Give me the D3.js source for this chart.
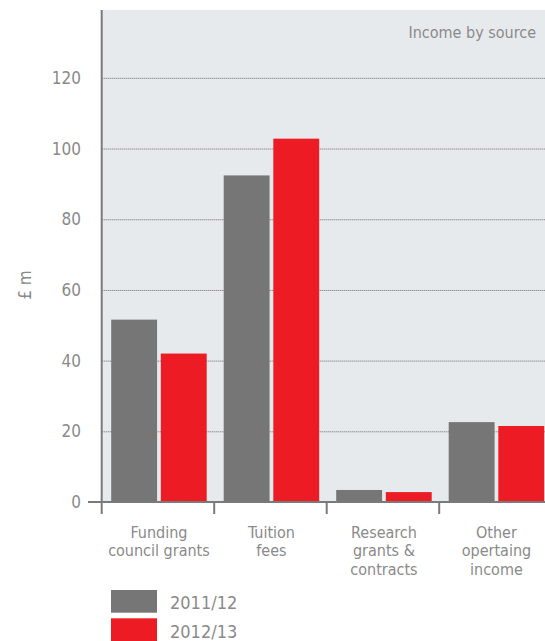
<!DOCTYPE html>
<html>
<head>
<meta charset="utf-8">
<script src="https://cdn.jsdelivr.net/npm/d3@7"></script>
<style>
  html, body { margin: 0; padding: 0; background: #fff; }
  svg { display: block; font-family: "DejaVu Sans Condensed", "DejaVu Sans", sans-serif; }
</style>
</head>
<body>
<div id="chart"></div>
<script>
// Data
const categories = [
  ['Funding', 'council grants'],
  ['Tuition', 'fees'],
  ['Research', 'grants &', 'contracts'],
  ['Other', 'opertaing', 'income']
];
const seriesNames = ['2011/12', '2012/13'];
const values2011 = [51.6, 92.4, 3.4, 22.6];
const values2012 = [42.0, 102.8, 2.8, 21.5];
const yTicks = [0, 20, 40, 60, 80, 100, 120];

const width = 545, height = 641;
const colors = { '2011/12': '#767676', '2012/13': '#ed1c24' };
const textColor = '#8a8a8a';
const axisColor = '#7a7a7a';

const plot = { left: 101.7, top: 10, bottom: 502, right: width };

const svg = d3.select('#chart').append('svg')
  .attr('width', width)
  .attr('height', height);

const catKeys = categories.map(c => c.join(' '));

const x = d3.scaleBand()
  .domain(catKeys)
  .range([plot.left, plot.left + 450])
  .padding(0);

const xSub = d3.scaleBand()
  .domain(seriesNames)
  .range([9.5, 105])
  .paddingInner(0.075);

const y = d3.scaleLinear()
  .domain([0, 139.2])
  .range([plot.bottom, plot.top]);

// Plot background
svg.append('rect')
  .attr('x', plot.left)
  .attr('y', plot.top)
  .attr('width', plot.right - plot.left)
  .attr('height', plot.bottom - plot.top)
  .attr('fill', '#e7eaed');

// Dotted gridlines
svg.append('g')
  .selectAll('line')
  .data(yTicks.filter(d => d > 0))
  .join('line')
  .attr('x1', plot.left)
  .attr('x2', plot.right)
  .attr('y1', d => y(d) + 0.5)
  .attr('y2', d => y(d) + 0.5)
  .attr('stroke', '#666')
  .attr('stroke-width', 1)
  .attr('stroke-dasharray', '1,1');

// Y tick labels
svg.append('g')
  .selectAll('text')
  .data(yTicks)
  .join('text')
  .attr('x', 81)
  .attr('y', d => y(d))
  .attr('dy', '0.35em')
  .attr('text-anchor', 'end')
  .attr('font-size', 17)
  .attr('fill', textColor)
  .text(d => d);

// Y axis title
svg.append('text')
  .attr('transform', 'translate(31, 285) rotate(-90)')
  .attr('text-anchor', 'middle')
  .attr('font-size', 17)
  .attr('fill', textColor)
  .text('£ m');

// Bars
const rows = catKeys.map((k, i) => ({ key: k, vals: [values2011[i], values2012[i]] }));

const groups = svg.append('g')
  .selectAll('g')
  .data(rows)
  .join('g')
  .attr('transform', d => `translate(${x(d.key)},0)`);

groups.selectAll('rect')
  .data(d => seriesNames.map((s, j) => ({ series: s, value: d.vals[j] })))
  .join('rect')
  .attr('x', d => xSub(d.series))
  .attr('y', d => y(d.value))
  .attr('width', xSub.bandwidth())
  .attr('height', d => y(0) - y(d.value))
  .attr('fill', d => colors[d.series]);

// Y axis line
svg.append('line')
  .attr('x1', plot.left).attr('x2', plot.left)
  .attr('y1', plot.top).attr('y2', plot.bottom)
  .attr('stroke', axisColor)
  .attr('stroke-width', 2);

// Baseline
svg.append('line')
  .attr('x1', 88).attr('x2', plot.right)
  .attr('y1', plot.bottom).attr('y2', plot.bottom)
  .attr('stroke', axisColor)
  .attr('stroke-width', 2);

// Category ticks at band boundaries
svg.append('g')
  .selectAll('line')
  .data(catKeys)
  .join('line')
  .attr('x1', d => x(d)).attr('x2', d => x(d))
  .attr('y1', plot.bottom).attr('y2', plot.bottom + 12)
  .attr('stroke', axisColor)
  .attr('stroke-width', 2);

// Category labels, one text per line
const labelLines = categories.flatMap((lines, i) =>
  lines.map((t, j) => ({ text: t, key: catKeys[i], line: j })));

svg.append('g')
  .selectAll('text')
  .data(labelLines)
  .join('text')
  .attr('x', d => x(d.key) + 9.5 + 95.5 / 2)
  .attr('y', d => 537.5 + d.line * 18.7)
  .attr('text-anchor', 'middle')
  .attr('font-size', 16)
  .attr('fill', textColor)
  .text(d => d.text);

// Title
svg.append('text')
  .attr('x', 536)
  .attr('y', 38)
  .attr('text-anchor', 'end')
  .attr('font-size', 16)
  .attr('fill', textColor)
  .text('Income by source');

// Legend
const legend = svg.append('g')
  .selectAll('g')
  .data(seriesNames)
  .join('g')
  .attr('transform', (d, i) => `translate(111, ${590 + i * 28.3})`);

legend.append('rect')
  .attr('width', 46)
  .attr('height', 22.7)
  .attr('fill', d => colors[d]);

legend.append('text')
  .attr('x', 59)
  .attr('y', 19.3)
  .attr('font-size', 18)
  .attr('fill', textColor)
  .text(d => d);
</script>
</body>
</html>
